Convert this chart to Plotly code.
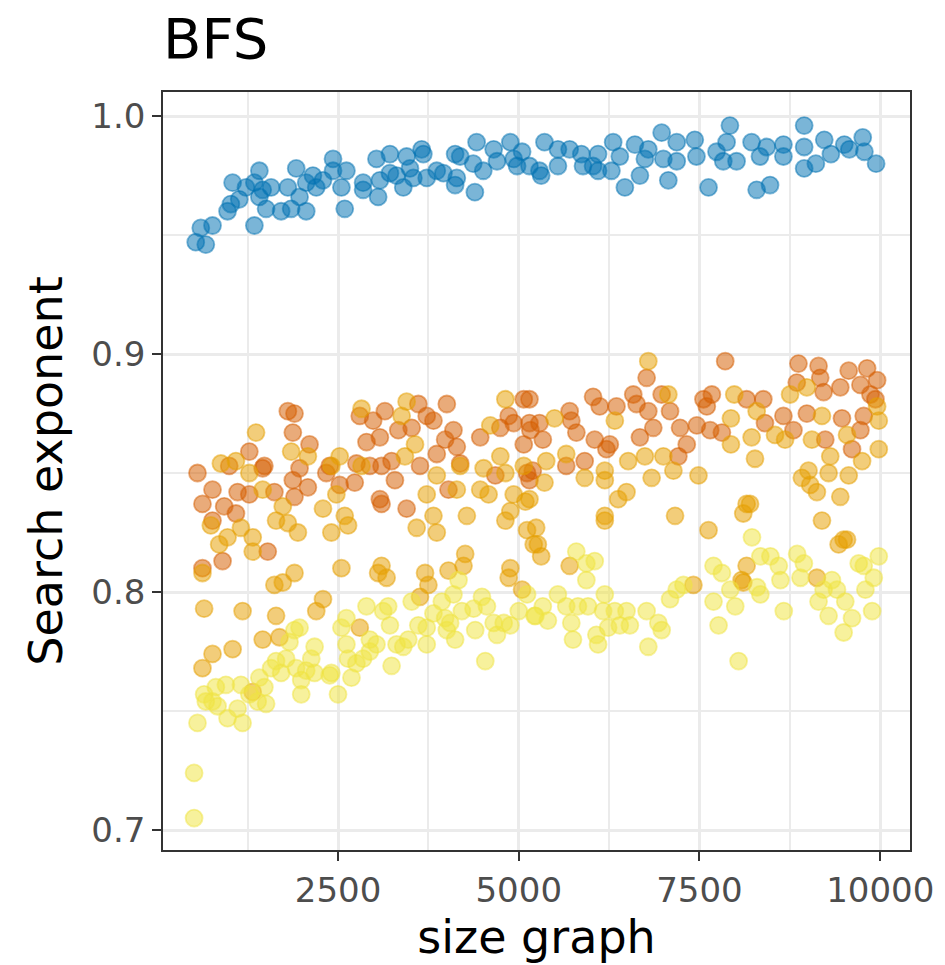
import plotly.graph_objects as go

# ---- data ----
blue_x = [532, 671, 602, 764, 972, 1018, 1042, 1134, 1227, 1343, 1343, 1412, 1412, 1505, 1574, 1458,
          1713, 1806, 1852, 1922, 1968, 2060, 2060, 2153, 2199, 2292, 2431, 2431, 2547, 2593, 2616,
          2847, 2847, 3032, 3055, 3079, 3218, 3218, 3310, 3403, 3449, 3495, 3542, 3657, 3680, 3727,
          3866, 3958, 4120, 4120, 4143, 4190, 4393, 4417, 4370, 4509, 4653, 4699, 4884, 4930, 5046,
          4977, 5148, 5287, 5310, 5356, 5542, 5542, 5704, 5866, 5889, 6028, 6097, 6097, 6282, 6306,
          6398, 6468, 6607, 6676, 6745, 6792, 6977, 7000, 7069, 7185, 7185, 7435, 7458, 7625, 7736,
          7875, 7921, 7829, 8013, 8221, 8291, 8337, 8476, 8430, 8661, 8661, 8948, 8948, 8948, 9110,
          9226, 9318, 9503, 9573, 9758, 9781, 9943]
blue_y = [0.947, 0.946, 0.953, 0.954, 0.960, 0.963, 0.972, 0.965, 0.970, 0.954, 0.972, 0.977, 0.966,
          0.961, 0.970, 0.969, 0.960, 0.970, 0.961, 0.978, 0.966, 0.960, 0.972, 0.975, 0.970, 0.973,
          0.982, 0.977, 0.970, 0.961, 0.977, 0.972, 0.969, 0.982, 0.966, 0.973, 0.984, 0.976, 0.975,
          0.970, 0.983, 0.978, 0.974, 0.986, 0.984, 0.974, 0.977, 0.976, 0.984, 0.971, 0.974, 0.983,
          0.968, 0.989, 0.980, 0.977, 0.986, 0.981, 0.989, 0.982, 0.985, 0.979, 0.979, 0.977, 0.975,
          0.989, 0.986, 0.979, 0.986, 0.984, 0.979, 0.979, 0.984, 0.977, 0.977, 0.989, 0.983, 0.970,
          0.988, 0.975, 0.982, 0.986, 0.993, 0.982, 0.973, 0.989, 0.981, 0.990, 0.983, 0.970, 0.985,
          0.989, 0.996, 0.981, 0.981, 0.989, 0.969, 0.983, 0.971, 0.987, 0.988, 0.983, 0.996, 0.987,
          0.978, 0.980, 0.990, 0.984, 0.988, 0.986, 0.991, 0.985, 0.980]

red_x = [556, 764, 625, 926, 1088, 764, 995, 1111, 1273, 1273, 1481, 1458, 1806, 1898, 1875, 2106,
         1968, 1875, 1898, 2083, 1620, 903, 625, 1528, 2338, 2385, 2523, 2731, 2755, 2801, 2894,
         2986, 3079, 3148, 2940, 3102, 3241, 3079, 3102, 3287, 3334, 3449, 3519, 3611, 3634, 3727,
         3820, 3866, 3982, 4005, 4028, 4097, 4143, 4190, 4467, 4676, 4745, 4861, 4930, 5069, 5069,
         5115, 5161, 5148, 5148, 5287, 5333, 5148, 5194, 5657, 5704, 5727, 5797, 5912, 6028, 6051,
         6120, 6213, 6259, 6352, 6584, 6630, 6676, 6769, 6792, 6861, 6977, 7093, 7208, 7324, 7231,
         7463, 7555, 7601, 7671, 7648, 7810, 7856, 8152, 8383, 8406, 8661, 8800, 8869, 8846, 8985,
         9147, 9170, 9240, 9217, 9448, 9471, 9564, 9610, 9726, 9726, 9819, 9957, 9934, 9772, 9865]
red_y = [0.850, 0.843, 0.837, 0.836, 0.833, 0.830, 0.853, 0.842, 0.859, 0.841, 0.853, 0.852, 0.876,
         0.875, 0.867, 0.862, 0.852, 0.847, 0.840, 0.844, 0.842, 0.813, 0.810, 0.817, 0.850, 0.853,
         0.845, 0.846, 0.854, 0.874, 0.863, 0.872, 0.865, 0.876, 0.853, 0.853, 0.855, 0.839, 0.837,
         0.847, 0.868, 0.835, 0.869, 0.879, 0.853, 0.874, 0.872, 0.858, 0.864, 0.879, 0.843, 0.868,
         0.861, 0.854, 0.865, 0.849, 0.869, 0.874, 0.871, 0.881, 0.862, 0.850, 0.868, 0.881, 0.871,
         0.871, 0.864, 0.847, 0.851, 0.853, 0.876, 0.872, 0.867, 0.855, 0.882, 0.864, 0.878, 0.860,
         0.862, 0.878, 0.883, 0.879, 0.865, 0.890, 0.876, 0.869, 0.883, 0.876, 0.857, 0.862, 0.869,
         0.870, 0.881, 0.878, 0.883, 0.868, 0.867, 0.897, 0.881, 0.881, 0.871, 0.874, 0.868, 0.896,
         0.888, 0.875, 0.895, 0.890, 0.864, 0.884, 0.886, 0.873, 0.893, 0.860, 0.887, 0.868, 0.894,
         0.889, 0.881, 0.874, 0.883]

orange_x = [625, 741, 856, 880, 972, 1088, 1157, 1273, 1320, 1320, 1366, 1458, 1643, 1736, 1806, 1852,
            1945, 2083, 2292, 2408, 2408, 2523, 2477, 2547, 2593, 2639, 2825, 2825, 3055, 3102, 3172,
            3380, 3449, 3426, 3565, 3588, 3704, 3727, 3820, 3866, 3866, 3750, 4028, 4190, 4143, 4259,
            4236, 4282, 4514, 4467, 4583, 4606, 4745, 4815, 4815, 4815, 4884, 4884, 4861, 4930, 5046,
            5092, 5115, 5069, 5207, 648, 625, 764, 1042, 1180, 1458, 1620, 1736, 1898, 1643, 1690,
            2199, 2292, 2801, 3634, 1320, 6792, 5148, 5241, 5264, 5310, 5356, 5380, 5495, 5657, 5704,
            5912, 6190, 6190, 6190, 6190, 6329, 6375, 6491, 6514, 6745, 6838, 7000, 7069, 7139, 7162,
            7416, 7486, 7625, 7935, 7935, 7981, 8106, 8152, 8199, 8268, 8152, 8106, 8221, 8291, 8545,
            8684, 8753, 8916, 9008, 9032, 8985, 9055, 9124, 9194, 9194, 9309, 9286, 9425, 9494, 9541,
            9448, 9541, 9564, 9749, 9957, 9980, 9980, 8083, 9124]
orange_y = [0.808, 0.828, 0.820, 0.854, 0.823, 0.855, 0.827, 0.850, 0.823, 0.817, 0.867, 0.843, 0.830,
            0.836, 0.829, 0.859, 0.825, 0.857, 0.835, 0.825, 0.853, 0.857, 0.841, 0.810, 0.832, 0.828,
            0.877, 0.853, 0.808, 0.811, 0.806, 0.874, 0.880, 0.857, 0.862, 0.827, 0.808, 0.841, 0.832,
            0.825, 0.849, 0.803, 0.809, 0.853, 0.843, 0.816, 0.811, 0.832, 0.852, 0.843, 0.841, 0.870,
            0.857, 0.881, 0.850, 0.830, 0.834, 0.810, 0.806, 0.841, 0.801, 0.838, 0.826, 0.853, 0.820,
            0.793, 0.768, 0.774, 0.776, 0.792, 0.780, 0.803, 0.804, 0.808, 0.790, 0.781, 0.792, 0.797,
            0.785, 0.798, 0.758, 0.897, 0.839, 0.827, 0.820, 0.815, 0.846, 0.855, 0.873, 0.858, 0.811,
            0.848, 0.851, 0.847, 0.832, 0.830, 0.872, 0.839, 0.842, 0.855, 0.857, 0.848, 0.857, 0.883,
            0.851, 0.832, 0.803, 0.849, 0.826, 0.873, 0.862, 0.883, 0.833, 0.837, 0.837, 0.856, 0.811,
            0.804, 0.865, 0.876, 0.866, 0.864, 0.883, 0.848, 0.851, 0.845, 0.886, 0.864, 0.842, 0.874,
            0.830, 0.857, 0.850, 0.820, 0.822, 0.822, 0.840, 0.866, 0.849, 0.855, 0.878, 0.860, 0.872,
            0.805, 0.806]

yellow_x = [509, 509, 556, 648, 671, 764, 810, 834, 949, 972, 1111, 1157, 1180, 1273, 1389, 1412, 1505,
            1481, 1574, 1643, 1713, 1782, 1829, 1898, 1968, 1921, 1991, 1991, 2060, 2130, 2176, 2176,
            2385, 2408, 2500, 2547, 2616, 2616, 2639, 2686, 2755, 2847, 2894, 2940, 2940, 3032, 3125,
            3194, 3218, 3241, 3310, 3403, 3472, 3519, 3611, 3727, 3727, 3820, 3936, 3982, 4005, 4051,
            4097, 4120, 4167, 4213, 4375, 4398, 4491, 4537, 4560, 4653, 4699, 4792, 4884, 5000, 5115,
            5231, 5218, 5333, 5403, 5541, 5657, 5727, 5750, 5796, 5819, 5935, 5935, 5958, 6051, 6074,
            6097, 6167, 6190, 6236, 6329, 6398, 6491, 6537, 6769, 6792, 6931, 6977, 7093, 7185, 7278,
            7694, 7694, 7764, 7810, 7926, 7995, 8041, 8226, 8296, 8342, 8342, 8481, 8597, 8620, 8666,
            8851, 8897, 8944, 9147, 9217, 9286, 9332, 9402, 9494, 9517, 9610, 9703, 9772, 9795, 9888,
            9911, 9980]
yellow_y = [0.705, 0.724, 0.745, 0.757, 0.754, 0.754, 0.760, 0.752, 0.761, 0.747, 0.751, 0.761, 0.745,
            0.757, 0.754, 0.764, 0.753, 0.760, 0.768, 0.771, 0.766, 0.772, 0.779, 0.784, 0.785, 0.768,
            0.763, 0.757, 0.767, 0.772, 0.777, 0.766, 0.765, 0.766, 0.757, 0.785, 0.789, 0.778, 0.772,
            0.764, 0.770, 0.772, 0.794, 0.775, 0.780, 0.778, 0.792, 0.794, 0.786, 0.769, 0.778, 0.777,
            0.780, 0.796, 0.786, 0.778, 0.785, 0.791, 0.796, 0.789, 0.784, 0.787, 0.799, 0.780, 0.805,
            0.792, 0.793, 0.784, 0.798, 0.771, 0.794, 0.787, 0.782, 0.787, 0.786, 0.792, 0.799, 0.790,
            0.790, 0.794, 0.788, 0.799, 0.794, 0.787, 0.780, 0.817, 0.794, 0.812, 0.805, 0.794, 0.813,
            0.782, 0.778, 0.792, 0.799, 0.785, 0.792, 0.786, 0.792, 0.786, 0.792, 0.777, 0.787, 0.784,
            0.797, 0.801, 0.803, 0.796, 0.811, 0.786, 0.808, 0.801, 0.794, 0.771, 0.823, 0.802, 0.815,
            0.799, 0.815, 0.811, 0.805, 0.792, 0.816, 0.806, 0.812, 0.796, 0.801, 0.790, 0.805, 0.801,
            0.783, 0.796, 0.789, 0.812, 0.811, 0.801, 0.792, 0.806, 0.815]

x_ticks = [2500, 5000, 7500, 10000]
y_ticks = [0.7, 0.8, 0.9, 1.0]

series = [
    (blue_x, blue_y, (0, 114, 178)),
    (red_x, red_y, (213, 94, 0)),
    (orange_x, orange_y, (230, 159, 0)),
    (yellow_x, yellow_y, (240, 228, 66)),
]

fig = go.Figure()
for xs, ys, (r, g, b) in series:
    fig.add_trace(go.Scatter(
        x=xs, y=ys, mode="markers", showlegend=False,
        marker=dict(size=17, color=f"rgba({r},{g},{b},0.52)",
                    line=dict(width=1.8, color=f"rgba({r},{g},{b},0.5)")),
    ))

axis_common = dict(
    showline=True, linecolor="#333333", linewidth=1.5, mirror=True,
    ticks="outside", ticklen=9, tickwidth=2, tickcolor="#333333",
    showgrid=True, gridcolor="#EBEBEB", gridwidth=3,
    zeroline=False,
    tickfont=dict(family="DejaVu Sans", size=34, color="#4D4D4D"),
)

fig.update_xaxes(
    **axis_common,
    range=[79, 10412], tickvals=x_ticks, tickformat="d",
    minor=dict(tickvals=[1250, 3750, 6250, 8750], showgrid=True, gridcolor="#EBEBEB", gridwidth=1.6, ticks=""),
    title=dict(text="size graph", font=dict(family="DejaVu Sans", size=46, color="#000000"), standoff=10),
)
fig.update_yaxes(
    **axis_common,
    range=[0.6916, 1.0101], tickvals=y_ticks, tickformat=".1f",
    minor=dict(tickvals=[0.75, 0.85, 0.95], showgrid=True, gridcolor="#EBEBEB", gridwidth=1.6, ticks=""),
    title=dict(text="Search exponent", font=dict(family="DejaVu Sans", size=46, color="#000000"), standoff=14),
)

fig.update_layout(
    width=945, height=965,
    margin=dict(l=163, r=35, t=92, b=115),
    paper_bgcolor="white", plot_bgcolor="white",
    title=dict(text="BFS", x=0, xanchor="left", xref="paper", y=1 - 38 / 965, yanchor="middle",
               font=dict(family="DejaVu Sans", size=56, color="#000000")),
    font=dict(family="DejaVu Sans"),
)

fig.write_html("out.html")
